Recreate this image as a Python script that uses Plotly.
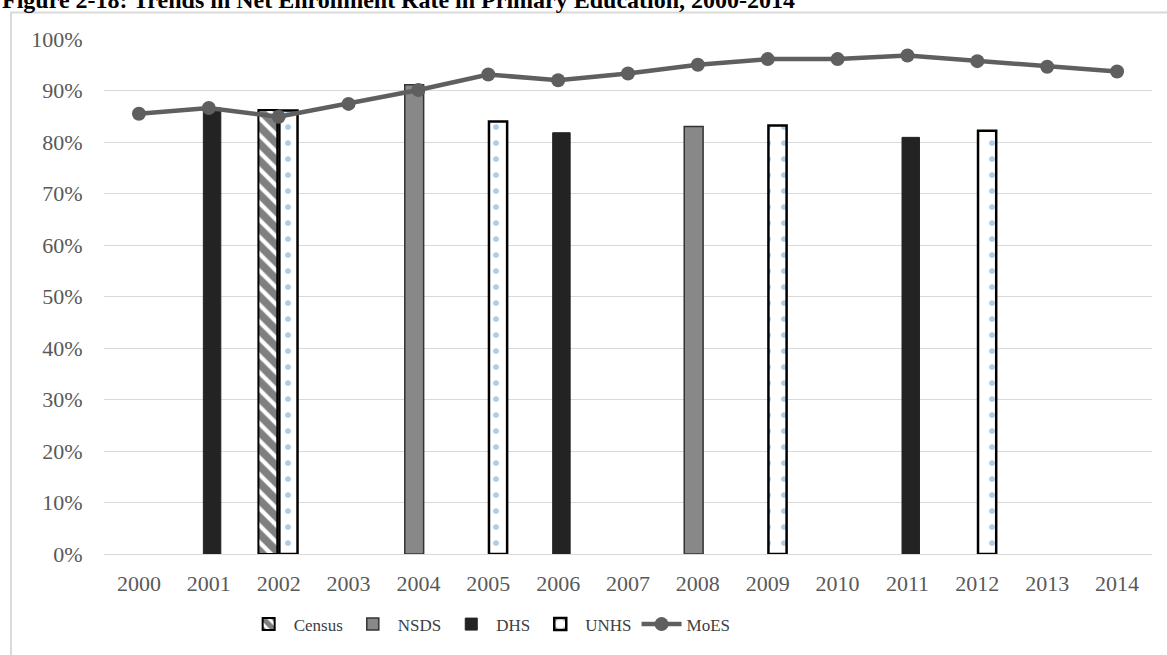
import plotly.graph_objects as go

# Categories and series values (net enrollment rate, fraction)
years = [str(y) for y in range(2000, 2015)]

census_years = ["2002"]
census_vals = [0.862]

nsds_years = ["2004", "2008"]
nsds_vals = [0.911, 0.830]

dhs_years = ["2001", "2006", "2011"]
dhs_vals = [0.866, 0.818, 0.809]

unhs_years = ["2002", "2005", "2009", "2012"]
unhs_vals = [0.861, 0.840, 0.832, 0.822]

moes_vals = [0.855, 0.866, 0.849, 0.874, 0.901, 0.931, 0.920, 0.933,
             0.950, 0.961, 0.961, 0.968, 0.957, 0.946, 0.937]

y_ticks = [i / 10 for i in range(11)]
y_ticklabels = [f"{i * 10}%" for i in range(11)]

SERIF = "Liberation Serif, Times New Roman, serif"

fig = go.Figure()

fig.add_trace(go.Bar(
    name="Census", x=census_years, y=census_vals,
    width=0.27, offset=-0.29,
    marker=dict(color="white",
                line=dict(color="black", width=2),
                pattern=dict(shape="\\", fgcolor="black", bgcolor="white",
                             size=12, solidity=0.65)),
))
fig.add_trace(go.Bar(
    name="NSDS", x=nsds_years, y=nsds_vals,
    width=0.27, offset=-0.195,
    marker=dict(color="#888888", line=dict(color="#333333", width=1.5)),
))
fig.add_trace(go.Bar(
    name="DHS", x=dhs_years, y=dhs_vals,
    width=0.25, offset=-0.078,
    marker=dict(color="#232323", line=dict(color="#232323", width=1)),
))
fig.add_trace(go.Bar(
    name="UNHS", x=unhs_years, y=unhs_vals,
    width=0.26, offset=0.01,
    marker=dict(color="white",
                line=dict(color="black", width=2.5),
                pattern=dict(shape=".", fgcolor="#5b9bd5", bgcolor="white",
                             size=16, solidity=0.1)),
))
fig.add_trace(go.Scatter(
    name="MoES", x=years, y=moes_vals, mode="lines+markers",
    line=dict(color="#5f5f5f", width=4.5),
    marker=dict(color="#5f5f5f", size=14),
))

# Chart frame
fig.add_shape(type="rect", xref="paper", yref="paper",
              x0=-0.0888, x1=1.03, y0=-0.2, y1=1.0515,
              line=dict(color="#d9d9d9", width=2), fillcolor="rgba(0,0,0,0)",
              layer="below")

# Figure caption
fig.add_annotation(
    text="<b>Figure 2-18: Trends in Net Enrollment Rate in Primary Education, 2000-2014</b>",
    xref="paper", yref="paper", x=-0.0993, y=1.046,
    xanchor="left", yanchor="bottom", showarrow=False,
    font=dict(family=SERIF, size=24, color="black"),
)

fig.update_layout(
    width=1167, height=655,
    margin=dict(l=104, r=15, t=38.5, b=96.2, pad=0),
    paper_bgcolor="white", plot_bgcolor="white",
    barmode="overlay",
    showlegend=True,
    legend=dict(orientation="h", x=0.368, xanchor="center", y=-0.137, yanchor="middle",
                font=dict(family=SERIF, size=17, color="#404040"),
                traceorder="normal", itemwidth=40),
    xaxis=dict(type="category", categoryorder="array", categoryarray=years,
               range=[-0.5, 14.5], showgrid=False, zeroline=False,
               showline=False, ticks="outside", ticklen=10,
               tickcolor="rgba(0,0,0,0)",
               tickfont=dict(family=SERIF, size=22, color="#595959")),
    yaxis=dict(range=[0, 1.0], tickvals=y_ticks, ticktext=y_ticklabels,
               showgrid=True, gridcolor="#d9d9d9", gridwidth=1,
               zeroline=True, zerolinecolor="#d9d9d9", zerolinewidth=1,
               showline=False, ticks="outside", ticklen=16,
               tickcolor="rgba(0,0,0,0)",
               tickfont=dict(family=SERIF, size=22, color="#595959")),
    font=dict(family=SERIF),
)

fig.write_html("out.html")
